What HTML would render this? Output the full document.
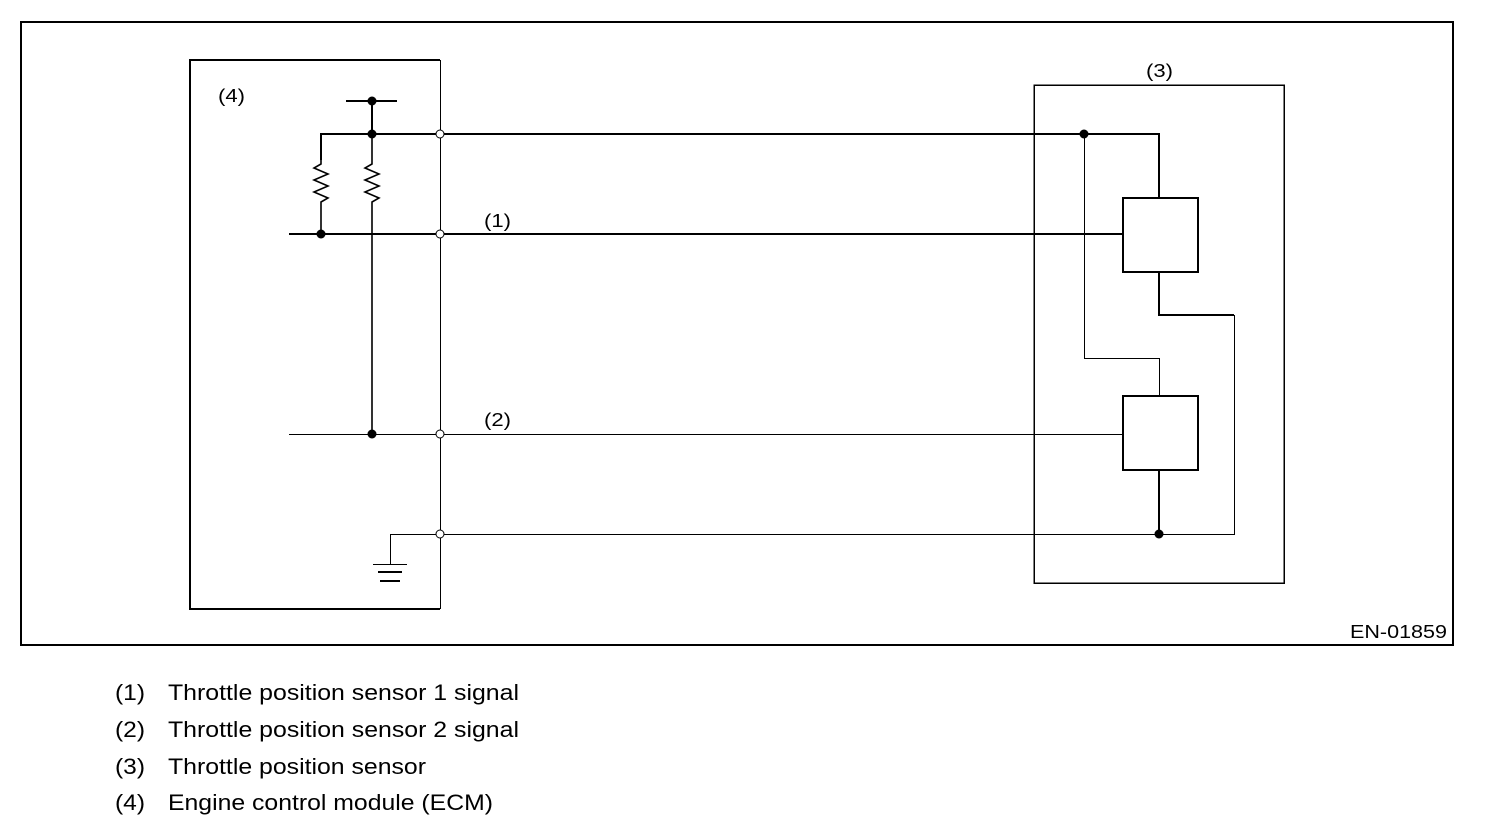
<!DOCTYPE html>
<html><head><style>
html,body{margin:0;padding:0;background:#fff;}
svg{display:block;font-family:"Liberation Sans",sans-serif;}
</style></head><body>
<svg width="1504" height="836" viewBox="0 0 1504 836" xmlns="http://www.w3.org/2000/svg">
<g shape-rendering="crispEdges">
<rect x="21" y="22" width="1432" height="623" fill="none" stroke="#000" stroke-width="2"/>
<path d="M440 60 H190 V609 H440" fill="none" stroke="#000" stroke-width="2"/>
<line x1="440.5" y1="60" x2="440.5" y2="609" stroke="#000" stroke-width="1"/>
<line x1="346" y1="101" x2="397" y2="101" stroke="#000" stroke-width="2"/>
<line x1="372" y1="101" x2="372" y2="134" stroke="#000" stroke-width="2"/>
<path d="M321 160 V134 H1159 V198" fill="none" stroke="#000" stroke-width="2"/>
<line x1="289" y1="234" x2="1123" y2="234" stroke="#000" stroke-width="2"/>
<line x1="289" y1="434.5" x2="1123" y2="434.5" stroke="#000" stroke-width="1"/>
<path d="M390.5 564 V534.5 H1159" fill="none" stroke="#000" stroke-width="1"/>
<line x1="373" y1="564.5" x2="407" y2="564.5" stroke="#000" stroke-width="1"/>
<line x1="378" y1="572" x2="402" y2="572" stroke="#000" stroke-width="2"/>
<line x1="380" y1="581" x2="400" y2="581" stroke="#000" stroke-width="2"/>
<rect x="1034" y="85" width="250" height="498" fill="none" stroke="#000" stroke-width="1.5"/>
<rect x="1123" y="198" width="75" height="74" fill="none" stroke="#000" stroke-width="2"/>
<rect x="1123" y="396" width="75" height="74" fill="none" stroke="#000" stroke-width="2"/>
<path d="M1084.5 134 V358.5 H1159.5 V396" fill="none" stroke="#000" stroke-width="1"/>
<path d="M1159 272 V315 H1234" fill="none" stroke="#000" stroke-width="2"/>
<path d="M1234.5 315 V534.5 H1159" fill="none" stroke="#000" stroke-width="1"/>
<line x1="1159" y1="470" x2="1159" y2="534" stroke="#000" stroke-width="2"/>
</g>
<polyline points="321,160 321,164 314,168 328,174 314,180 328,186 314,192 328,198 321,202 321,234" fill="none" stroke="#000" stroke-width="1.6"/>
<polyline points="372,134 372,164 365,168 379,174 365,180 379,186 365,192 379,198 372,202 372,434" fill="none" stroke="#000" stroke-width="1.6"/>
<g fill="#000">
<circle cx="372" cy="101" r="4.5"/><circle cx="372" cy="134" r="4.5"/>
<circle cx="321" cy="234" r="4.5"/><circle cx="372" cy="434" r="4.5"/>
<circle cx="1084" cy="134" r="4.5"/><circle cx="1159" cy="534" r="4.5"/>
</g>
<g fill="#fff" stroke="#000" stroke-width="1">
<circle cx="440" cy="134" r="4"/><circle cx="440" cy="234" r="4"/>
<circle cx="440" cy="434" r="4"/><circle cx="440" cy="534" r="4"/>
</g>
<g font-size="18">
<text x="218" y="102" textLength="27" lengthAdjust="spacingAndGlyphs">(4)</text>
<text x="484" y="227" textLength="27" lengthAdjust="spacingAndGlyphs">(1)</text>
<text x="484" y="426" textLength="27" lengthAdjust="spacingAndGlyphs">(2)</text>
<text x="1146" y="77" textLength="27" lengthAdjust="spacingAndGlyphs">(3)</text>
<text x="1350" y="638" textLength="97" lengthAdjust="spacingAndGlyphs">EN-01859</text>
</g>
<g font-size="22">
<text x="115" y="700" textLength="30" lengthAdjust="spacingAndGlyphs">(1)</text><text x="168" y="700" textLength="351" lengthAdjust="spacingAndGlyphs">Throttle position sensor 1 signal</text>
<text x="115" y="737" textLength="30" lengthAdjust="spacingAndGlyphs">(2)</text><text x="168" y="737" textLength="351" lengthAdjust="spacingAndGlyphs">Throttle position sensor 2 signal</text>
<text x="115" y="774" textLength="30" lengthAdjust="spacingAndGlyphs">(3)</text><text x="168" y="774" textLength="258" lengthAdjust="spacingAndGlyphs">Throttle position sensor</text>
<text x="115" y="810" textLength="30" lengthAdjust="spacingAndGlyphs">(4)</text><text x="168" y="810" textLength="325" lengthAdjust="spacingAndGlyphs">Engine control module (ECM)</text>
</g>
</svg>
</body></html>
